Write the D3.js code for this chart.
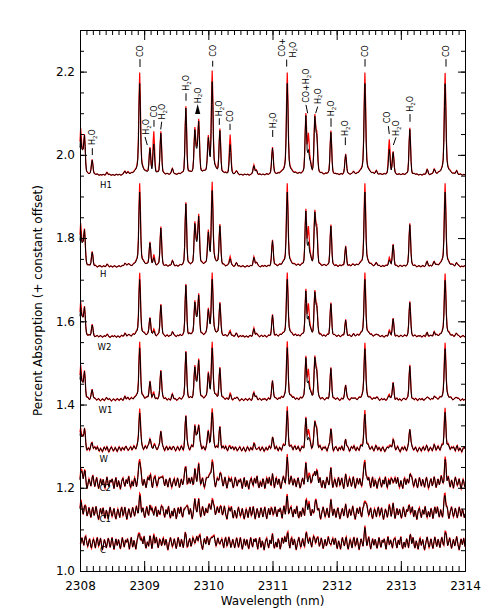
<!DOCTYPE html>
<html>
<head>
<meta charset="utf-8">
<script src="https://cdn.jsdelivr.net/npm/d3@7"></script>
<style>
body { margin: 0; background: #fff; }
svg { display: block; font-family: "DejaVu Sans", sans-serif; }
</style>
</head>
<body>
<div id="chart"></div>
<script>
var lineCenters = [2308.01, 2308.04, 2308.07, 2308.19, 2308.42, 2308.70, 2308.75, 2308.93, 2309.09, 2309.15,
  2309.26, 2309.44, 2309.65, 2309.79, 2309.82, 2309.85, 2310.00, 2310.06, 2310.18, 2310.34,
  2310.44, 2310.71, 2310.75, 2311.00, 2311.23, 2311.52, 2311.56, 2311.59, 2311.66, 2311.69,
  2311.91, 2312.14, 2312.26, 2312.44, 2312.62, 2312.82, 2312.88, 2313.14, 2313.41, 2313.52,
  2313.69, 2313.87];
var lineDepthBlack = [0.085, 0.045, 0.088, 0.034, 0.005, 0.008, 0.005, 0.22, 0.058, 0.07,
  0.098, 0.015, 0.158, 0.10, 0.04, 0.12, 0.074, 0.22, 0.10, 0.072,
  0.008, 0.022, 0.01, 0.064, 0.22, 0.138, 0.05, 0.02, 0.13, 0.085,
  0.102, 0.049, 0.005, 0.22, 0.008, 0.06, 0.053, 0.108, 0.012, 0.012,
  0.22, 0.008];
var lineDepthRed = [0.105, 0.045, 0.09, 0.036, 0.005, 0.008, 0.005, 0.246, 0.06, 0.10,
  0.102, 0.015, 0.162, 0.105, 0.045, 0.125, 0.078, 0.246, 0.104, 0.096,
  0.008, 0.024, 0.01, 0.066, 0.246, 0.142, 0.09, 0.02, 0.134, 0.092,
  0.106, 0.051, 0.005, 0.246, 0.008, 0.084, 0.055, 0.112, 0.012, 0.012,
  0.246, 0.008];
var lineGroup = ["h2o", "h2o", "h2o", "h2o", "h2o", "h2o", "h2o", "co", "h2o", "hco",
  "h2o", "h2o", "h2o", "h2o", "h2o", "h2o", "h2o", "co", "h2o", "hco",
  "h2o", "h2o", "h2o", "h2o", "co", "h2o", "h2o", "h2o", "h2o", "h2o",
  "h2o", "h2o", "h2o", "co", "h2o", "hco", "h2o", "h2o", "h2o", "h2o",
  "co", "h2o"];

// Spectra, top to bottom: offset of continuum and line strength relative to H1
var traceNames = ["H1", "H", "W2", "W1", "W", "C2", "C1", "C"];
var traceOffsets = [1.951, 1.731, 1.563, 1.411, 1.292, 1.211, 1.139, 1.066];
var coScale = [1.0, 0.81, 0.62, 0.56, 0.40, 0.24, 0.18, 0.12];
var hotCoScale = [1.0, 0.25, 0.15, 0.15, 0.12, 0.10, 0.10, 0.10];
var h2oScale = [1.0, 0.94, 0.76, 0.72, 0.49, 0.26, 0.18, 0.12];
var noiseAmp = [0.0012, 0.0018, 0.0022, 0.0028, 0.0062, 0.014, 0.015, 0.015];
var noiseShift = [0, 37, 71, 113, 19, 151, 89, 127];

// hand-read residual wiggle pattern (units of noiseAmp), 0.01 nm apart
var ripple = [0.2, 0.7, 0.3, -0.4, -0.9, -0.2, 0.5, 0.9, 0.1, -0.6,
  -0.3, 0.4, 0.1, -0.5, -1.0, -0.4, 0.3, 0.6, 0.8, 0.2,
  -0.3, -0.7, -0.1, 0.5, 0.2, -0.2, 0.6, 1.0, 0.3, -0.5,
  -0.8, -0.3, 0.2, -0.1, -0.6, 0.1, 0.7, 0.4, -0.2, -0.9,
  -0.5, 0.3, 0.8, 0.5, -0.1, 0.2, 0.9, 0.4, -0.4, -0.7,
  -0.2, 0.4, 0.0, -0.5, -0.9, -0.3, 0.6, 0.8, 0.2, -0.3,
  0.1, 0.6, 0.2, -0.6, -1.0, -0.5, 0.1, 0.5, 0.9, 0.4,
  -0.2, -0.6, -0.3, 0.3, 0.7, 0.2, -0.4, -0.8, -0.3, 0.4,
  0.9, 0.5, -0.1, -0.5, 0.0, 0.6, 0.3, -0.3, -0.7, -0.1,
  0.5, 0.8, 0.2, -0.4, -0.9, -0.6, 0.0, 0.4, 0.7, 0.1,
  -0.5, -0.2, 0.3, 0.8, 0.4, -0.3, -0.8, -0.4, 0.2, 0.6,
  0.1, -0.4, -0.1, 0.5, 1.0, 0.5, -0.2, -0.6, -1.0, -0.4,
  0.3, 0.7, 0.2, -0.2, 0.3, 0.8, 0.3, -0.5, -0.8, -0.2,
  0.4, 0.1, -0.4, -0.9, -0.3, 0.5, 0.9, 0.4, -0.1, -0.5,
  -0.2, 0.4, 0.7, 0.1, -0.6, -0.9, -0.4, 0.2, 0.6, 0.3,
  -0.3, -0.7, 0.0, 0.6, 0.9, 0.3, -0.4, -0.2, 0.4, 0.8,
  0.2, -0.5, -1.0, -0.5, 0.1, 0.6, 0.3, -0.2, -0.7, -0.3,
  0.3, 0.8, 0.5, -0.1, -0.6, -0.2, 0.5, 0.9, 0.3, -0.4,
  -0.9, -0.4, 0.2, 0.7, 0.2, -0.3, 0.1, 0.6, 0.2, -0.5,
  -0.8, -0.3, 0.4, 0.9, 0.4, -0.2, -0.6, -0.1, 0.5, 0.2];

// Species labels above H1: text, text x (nm), bottom of text (value), pointer line ends
var annText = ["H2O", "CO", "H2O", "CO", "H2O", "H2O", "H2O", "CO", "H2O", "CO",
  "H2O", "CO+", "H2O", "CO+H2O", "H2O", "H2O", "H2O", "CO", "CO", "H2O",
  "H2O", "CO"];
var annNm = [2308.192, 2308.935, 2309.029, 2309.153, 2309.283, 2309.652, 2309.834, 2310.068, 2310.171, 2310.338,
  2311.003, 2311.148, 2311.315, 2311.522, 2311.704, 2311.912, 2312.135, 2312.442, 2312.789, 2312.925,
  2313.143, 2313.704];
var annBottom = [2.0235, 2.235, 2.048, 2.090, 2.085, 2.154, 2.124, 2.236, 2.093, 2.079,
  2.064, 2.236, 2.234, 2.125, 2.122, 2.093, 2.045, 2.235, 2.0757, 2.045,
  2.1036, 2.235];
var tickTop = [2.016, 2.230, 2.043, 2.0836, 2.0795, 2.148, null, 2.226, 2.088, 2.0745,
  2.0596, 2.229, null, 2.120, 2.116, 2.088, 2.042, 2.230, 2.069, 2.042,
  2.098, 2.230];
var tickBottom = [1.9995, 2.211, 2.0235, 2.0675, 2.061, 2.130, null, 2.212, 2.072, 2.0596,
  2.043, 2.212, null, 2.100, 2.100, 2.0675, 2.0235, 2.212, 2.050, 2.0235,
  2.0795, 2.212];
var tickBottomNm = [2308.192, 2308.935, 2309.049, 2309.153, 2309.258, 2309.652, null, 2310.068, 2310.171, 2310.338,
  2311.003, 2311.221, null, 2311.548, 2311.673, 2311.912, 2312.135, 2312.442, 2312.820, 2312.883,
  2313.143, 2313.704];
var tickTopNm = [2308.192, 2308.935, 2309.013, 2309.153, 2309.273, 2309.652, null, 2310.068, 2310.171, 2310.338,
  2311.003, 2311.221, null, 2311.522, 2311.704, 2311.912, 2312.135, 2312.442, 2312.805, 2312.925,
  2313.143, 2313.704];
// filled arrow-head under the 2309.83 H2O label
var arrowNm = 2309.834, arrowTop = 2.122, arrowBase = 2.098;

var xTicks = [2308, 2309, 2310, 2311, 2312, 2313, 2314];
var yTicks = [1.0, 1.2, 1.4, 1.6, 1.8, 2.0, 2.2];

var width = 488, height = 610;
var plotLeft = 80, plotRight = 465, plotTop = 30, plotBottom = 571;

var svg = d3.select("#chart")
  .append("svg")
  .attr("width", width)
  .attr("height", height);

svg.append("rect")
  .attr("width", width)
  .attr("height", height)
  .attr("fill", "white");

var x = d3.scaleLinear().domain([2308, 2314]).range([plotLeft, plotRight]);
var y = d3.scaleLinear().domain([1.0, 2.3]).range([plotBottom, plotTop]);

// Line shape: narrow core, CO lines get a weak broad wing
function profile(d, grp) {
  var wing = grp == "co" ? 0.18 : 0.08;
  return (1 - wing) * Math.exp(-0.5 * (d / 0.012) * (d / 0.012)) + wing / (1 + (d / 0.045) * (d / 0.045));
}

var grid = d3.range(0, 601).map(function(i) { return 2308 + i * 0.01; });

function spectrum(t, depths, noiseGain) {
  return grid.map(function(w, i) {
    var v = traceOffsets[t];
    for (var k = 0; k < lineCenters.length; k++) {
      var s = lineGroup[k] == "co" ? coScale[t] : (lineGroup[k] == "hco" ? hotCoScale[t] : h2oScale[t]);
      v += depths[k] * s * profile(w - lineCenters[k], lineGroup[k]);
    }
    v += noiseGain * noiseAmp[t] * ripple[(i + noiseShift[t]) % ripple.length];
    return [w, v];
  });
}

var line = d3.line()
  .x(function(d) { return x(d[0]); })
  .y(function(d) { return y(d[1]); });

var g = svg.append("g").attr("class", "spectra");

traceNames.forEach(function(name, t) {
  g.append("path")
    .attr("d", line(spectrum(t, lineDepthRed, 1.12)))
    .attr("fill", "none")
    .attr("stroke", "#ff0000")
    .attr("stroke-width", 1.2);
  g.append("path")
    .attr("d", line(spectrum(t, lineDepthBlack, 1.0)))
    .attr("fill", "none")
    .attr("stroke", "black")
    .attr("stroke-width", 1);
});

// Trace names, just under each continuum
var nameLeft = [100, 100, 97.5, 98.5, 99.5, 99.5, 99.5, 100];
var nameBase = [188, 277, 350, 413, 461.5, 491, 521.5, 552.5];
svg.selectAll(".tname")
  .data(traceNames)
  .enter()
  .append("text")
  .attr("class", "tname")
  .attr("x", function(d, i) { return nameLeft[i]; })
  .attr("y", function(d, i) { return nameBase[i]; })
  .attr("font-size", 8.5)
  .attr("fill", "black")
  .text(function(d) { return d; });

// Species labels (rotated, with H2O subscripts)
function addLabel(sel, txt) {
  var parts = txt.split("2");
  var t = sel.append("text")
    .attr("x", 0)
    .attr("y", 2.9)
    .attr("font-size", 8)
    .attr("fill", "black");
  parts.forEach(function(p, j) {
    if (j > 0) {
      t.append("tspan").attr("font-size", 5.5).attr("dy", 1.8).text("2");
      t.append("tspan").attr("dy", -1.8).text(p);
    } else {
      t.append("tspan").text(p);
    }
  });
}

annText.forEach(function(txt, i) {
  var lab = svg.append("g")
    .attr("transform", "translate(" + x(annNm[i]) + "," + y(annBottom[i]) + ") rotate(-90)");
  addLabel(lab, txt);
  if (tickTop[i] != null) {
    svg.append("line")
      .attr("x1", x(tickTopNm[i]))
      .attr("y1", y(tickTop[i]))
      .attr("x2", x(tickBottomNm[i]))
      .attr("y2", y(tickBottom[i]))
      .attr("stroke", "black")
      .attr("stroke-width", 1);
  }
});

svg.append("path")
  .attr("d", "M" + x(arrowNm) + "," + y(arrowTop) +
    "L" + (x(arrowNm) - 2.6) + "," + y(arrowBase) +
    "L" + (x(arrowNm) + 2.6) + "," + y(arrowBase) + "Z")
  .attr("fill", "black");

// Axes: ticks point inward on all four sides
var xMinor = d3.range(0, 61).map(function(i) { return 2308 + i * 0.1; });
var yMinor = d3.range(0, 27).map(function(i) { return 1.0 + i * 0.05; });

function styleAxis(a) {
  a.selectAll("path").attr("stroke", "black");
  a.selectAll("line").attr("stroke", "black");
  a.selectAll("text").attr("font-family", "DejaVu Sans, sans-serif").attr("font-size", 12).attr("fill", "black");
}

svg.append("g").attr("transform", "translate(0," + plotBottom + ")")
  .call(d3.axisBottom(x).tickValues(xMinor).tickSize(-5).tickSizeOuter(0).tickFormat(""))
  .call(styleAxis);
svg.append("g").attr("transform", "translate(0," + plotBottom + ")")
  .call(d3.axisBottom(x).tickValues(xTicks).tickSize(-10).tickSizeOuter(0).tickPadding(10).tickFormat(d3.format("d")))
  .call(styleAxis);
svg.append("g").attr("transform", "translate(0," + plotTop + ")")
  .call(d3.axisTop(x).tickValues(xMinor).tickSize(-5).tickSizeOuter(0).tickFormat(""))
  .call(styleAxis);
svg.append("g").attr("transform", "translate(0," + plotTop + ")")
  .call(d3.axisTop(x).tickValues(xTicks).tickSize(-10).tickSizeOuter(0).tickFormat(""))
  .call(styleAxis);

svg.append("g").attr("transform", "translate(" + plotLeft + ",0)")
  .call(d3.axisLeft(y).tickValues(yMinor).tickSize(-4).tickSizeOuter(0).tickFormat(""))
  .call(styleAxis);
svg.append("g").attr("transform", "translate(" + plotLeft + ",0)")
  .call(d3.axisLeft(y).tickValues(yTicks).tickSize(-7).tickSizeOuter(0).tickPadding(5).tickFormat(d3.format(".1f")))
  .call(styleAxis);
svg.append("g").attr("transform", "translate(" + plotRight + ",0)")
  .call(d3.axisRight(y).tickValues(yMinor).tickSize(-4).tickSizeOuter(0).tickFormat(""))
  .call(styleAxis);
svg.append("g").attr("transform", "translate(" + plotRight + ",0)")
  .call(d3.axisRight(y).tickValues(yTicks).tickSize(-7).tickSizeOuter(0).tickFormat(""))
  .call(styleAxis);

// Axis titles
svg.append("text")
  .attr("x", (plotLeft + plotRight) / 2)
  .attr("y", 605)
  .attr("text-anchor", "middle")
  .attr("font-size", 12)
  .text("Wavelength (nm)");

svg.append("text")
  .attr("transform", "translate(42," + (plotTop + plotBottom) / 2 + ") rotate(-90)")
  .attr("text-anchor", "middle")
  .attr("font-size", 12)
  .text("Percent Absorption (+ constant offset)");
</script>
</body>
</html>
